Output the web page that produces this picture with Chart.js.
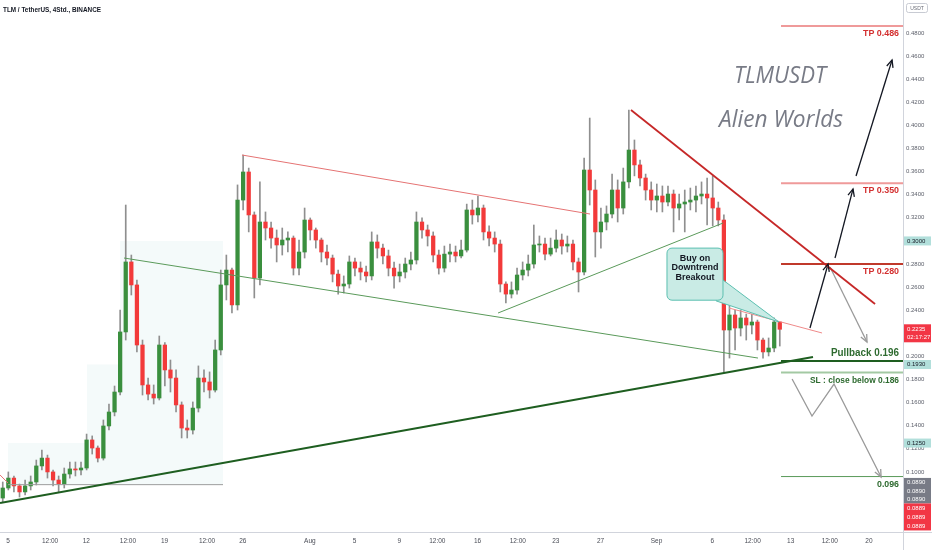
<!DOCTYPE html>
<html>
<head>
<meta charset="utf-8">
<script src="https://cdn.jsdelivr.net/npm/chart.js@4.4.0/dist/chart.umd.min.js"></script>
<style>
  html, body { margin: 0; padding: 0; background: #fff; }
  #wrap { width: 932px; height: 550px; }
</style>
</head>
<body>
<div id="wrap"><canvas id="chart"></canvas></div>
<script>
// TLM / USDT candles (12h buckets), x axis in "days" (July = 1..31, Aug = 32..62, Sep = 63..)
const firstOpen = 0.0774;
const closes = [
  0.0861, 0.0947, 0.0879, 0.0827, 0.0879, 0.0913, 0.1052, 0.1120, 0.1000, 0.0930,
  0.0895, 0.0982, 0.1026, 0.1017, 0.1034, 0.1277, 0.1207, 0.1120, 0.1398, 0.1519,
  0.1692, 0.2212, 0.2818, 0.2619, 0.2099, 0.1753, 0.1674, 0.1640, 0.2099, 0.1883,
  0.1813, 0.1580, 0.1380, 0.1363, 0.1553, 0.1813, 0.1779, 0.1709, 0.2056, 0.2619,
  0.2748, 0.2446, 0.3354, 0.3597, 0.3225, 0.2679, 0.3164, 0.3112, 0.3025, 0.2965,
  0.3008, 0.3025, 0.2765, 0.2904, 0.3181, 0.3095, 0.3008, 0.2904, 0.2852, 0.2713,
  0.2610, 0.2627, 0.2818, 0.2765, 0.2731, 0.2697, 0.2991, 0.2938, 0.2870, 0.2765,
  0.2697, 0.2731, 0.2800, 0.2835, 0.3164, 0.3095, 0.3043, 0.2878, 0.2765, 0.2886,
  0.2904, 0.2870, 0.2921, 0.3268, 0.3225, 0.3285, 0.3078, 0.3025, 0.2973, 0.2627,
  0.2540, 0.2575, 0.2705, 0.2748, 0.2800, 0.2965, 0.2973, 0.2886, 0.2938, 0.3008,
  0.2956, 0.2973, 0.2818, 0.2731, 0.3614, 0.3441, 0.3078, 0.3164, 0.3233, 0.3441,
  0.3285, 0.3511, 0.3787, 0.3658, 0.3545, 0.3441, 0.3354, 0.3389, 0.3337, 0.3406,
  0.3285, 0.3320, 0.3337, 0.3354, 0.3389, 0.3406, 0.3372, 0.3285, 0.3181, 0.2229,
  0.2359, 0.2246, 0.2333, 0.2272, 0.2298, 0.2142, 0.2039, 0.2073, 0.2298, 0.2235
];
const highs = [
  0.0913, 0.1000, 0.0965, 0.0895, 0.0930, 0.0965, 0.1103, 0.1190, 0.1146, 0.1017,
  0.0965, 0.1034, 0.1086, 0.1086, 0.1086, 0.1328, 0.1312, 0.1225, 0.1450, 0.1588,
  0.1744, 0.2402, 0.3311, 0.2878, 0.2662, 0.2142, 0.1813, 0.1753, 0.2177, 0.2120,
  0.1969, 0.1883, 0.1606, 0.1450, 0.1606, 0.1918, 0.1883, 0.1866, 0.2142, 0.2748,
  0.2878, 0.2765, 0.3485, 0.3744, 0.3631, 0.3251, 0.3511, 0.3251, 0.3164, 0.3095,
  0.3112, 0.3078, 0.3043, 0.3008, 0.3285, 0.3199, 0.3112, 0.3025, 0.2965, 0.2878,
  0.2748, 0.2697, 0.2870, 0.2852, 0.2818, 0.2783, 0.3078, 0.3052, 0.2973, 0.2921,
  0.2818, 0.2800, 0.2852, 0.2904, 0.3251, 0.3199, 0.3138, 0.3078, 0.2921, 0.2956,
  0.2973, 0.2956, 0.3008, 0.3319, 0.3354, 0.3389, 0.3311, 0.3130, 0.3078, 0.3008,
  0.2645, 0.2645, 0.2765, 0.2818, 0.2878, 0.3138, 0.3043, 0.3025, 0.3025, 0.3095,
  0.3060, 0.3043, 0.3008, 0.2852, 0.3718, 0.4064, 0.3528, 0.3285, 0.3303, 0.3579,
  0.3528, 0.3631, 0.4134, 0.3874, 0.3701, 0.3579, 0.3511, 0.3493, 0.3476, 0.3476,
  0.3441, 0.3406, 0.3441, 0.3458, 0.3476, 0.3511, 0.3545, 0.3563, 0.3337, 0.3225,
  0.2446, 0.2402, 0.2402, 0.2367, 0.2367, 0.2315, 0.2160, 0.2160, 0.2333, 0.2298
];
const lows = [
  0.0740, 0.0844, 0.0827, 0.0783, 0.0801, 0.0844, 0.0887, 0.1017, 0.0947, 0.0879,
  0.0827, 0.0861, 0.0947, 0.0965, 0.0974, 0.1017, 0.1155, 0.1086, 0.1103, 0.1363,
  0.1485, 0.1666, 0.2142, 0.2532, 0.2039, 0.1666, 0.1623, 0.1588, 0.1623, 0.1744,
  0.1692, 0.1519, 0.1294, 0.1294, 0.1328, 0.1519, 0.1692, 0.1640, 0.1692, 0.2013,
  0.2489, 0.2376, 0.2402, 0.3268, 0.3078, 0.2506, 0.2619, 0.3008, 0.2938, 0.2818,
  0.2878, 0.2904, 0.2705, 0.2705, 0.2852, 0.3008, 0.2938, 0.2818, 0.2792, 0.2645,
  0.2540, 0.2549, 0.2592, 0.2697, 0.2662, 0.2645, 0.2662, 0.2852, 0.2800, 0.2697,
  0.2592, 0.2645, 0.2679, 0.2748, 0.2800, 0.3025, 0.2956, 0.2818, 0.2713, 0.2731,
  0.2818, 0.2818, 0.2852, 0.2904, 0.3146, 0.3164, 0.3008, 0.2956, 0.2904, 0.2558,
  0.2463, 0.2506, 0.2540, 0.2662, 0.2697, 0.2765, 0.2904, 0.2835, 0.2870, 0.2904,
  0.2886, 0.2904, 0.2748, 0.2558, 0.2705, 0.3311, 0.2861, 0.2938, 0.3095, 0.3199,
  0.3164, 0.3233, 0.3458, 0.3563, 0.3476, 0.3354, 0.3268, 0.3251, 0.3251, 0.3303,
  0.3078, 0.3181, 0.3078, 0.3268, 0.3251, 0.3320, 0.3138, 0.3130, 0.3130, 0.1866,
  0.1986, 0.2056, 0.2177, 0.2142, 0.2194, 0.2056, 0.1986, 0.2004, 0.2040, 0.2090
];
const firstCandleDay = 4.53;
const candleStep = 0.5;

const timeTicks  = [5, 8.76, 12, 15.73, 19, 22.8, 26, 32, 36, 40, 43.4, 47, 50.6, 54, 58, 63, 68, 71.6, 75, 78.5, 82];
const timeLabels = ['5', '12:00', '12', '12:00', '19', '12:00', '26', 'Aug', '5', '9', '12:00', '16', '12:00', '23', '27', 'Sep', '6', '12:00', '13', '12:00', '20'];
const priceTicks = [0.48, 0.46, 0.44, 0.42, 0.40, 0.38, 0.36, 0.34, 0.32, 0.30, 0.28, 0.26, 0.24, 0.22, 0.20, 0.18, 0.16, 0.14, 0.12, 0.10];

// trade plan levels
const tpLevels = [0.486, 0.350, 0.280];
const pullbackLevel = 0.196;
const stopLevel = 0.186;
const targetLevel = 0.096;
const levelFrom = 74.14;
const levelTo = 85.05;

// right axis tags
const axisMarks = [0.3000, 0.1930, 0.1250];
const lastPrice = 0.2235;
const countdown = '02:17:27';
const stackGrey = ['0.0890', '0.0890', '0.0890'];
const stackRed = ['0.0889', '0.0889', '0.0889'];

// drawings (day, price)
const rangeSteps = [{x: 5, y: 0.125}, {x: 12.07, y: 0.193}, {x: 15.02, y: 0.300}, {x: 24.23, y: 0.300}];
const rangeBase = 0.089;
const supportLine   = [{x: 4.284, y: 0.0731}, {x: 77.0, y: 0.1995}];
const channelLow    = [{x: 15.376, y: 0.2852}, {x: 72.08, y: 0.1986}];
const channelTop    = [{x: 25.93, y: 0.3744}, {x: 57.06, y: 0.3233}];
const risingLine    = [{x: 48.83, y: 0.2376}, {x: 68.95, y: 0.3155}];
const downTrend     = [{x: 60.72, y: 0.4134}, {x: 82.55, y: 0.2454}];
const wedgeTop      = [{x: 69.49, y: 0.2419}, {x: 77.81, y: 0.2203}];
const leftStub      = [{x: 4.284, y: 0.0974}, {x: 5.0, y: 0.0904}];
const upArrow1      = [{x: 76.73, y: 0.2246}, {x: 78.35, y: 0.2800}];
const upArrow2      = [{x: 78.97, y: 0.2852}, {x: 80.58, y: 0.3450}];
const upArrow3      = [{x: 80.85, y: 0.3562}, {x: 84.07, y: 0.4567}];
const backArrow     = [{x: 78.52, y: 0.2774}, {x: 81.83, y: 0.2125}];
const dropArrow     = [{x: 75.13, y: 0.1805}, {x: 76.91, y: 0.1484}, {x: 78.88, y: 0.1761}, {x: 83.09, y: 0.0956}];
const callout = {x0: 63.94, x1: 68.95, top: 0.2938, bottom: 0.2487};
const calloutTip = [{x: 68.33, y: 0.2481}, {x: 73.96, y: 0.2298}, {x: 68.95, y: 0.2662}];
const calloutText = ['Buy on', 'Downtrend', 'Breakout'];

const GREEN = '#3a8f3e';
const RED = '#f23a3a';

const opens = closes.map((c, i) => i === 0 ? firstOpen : closes[i - 1]);
const candleDay = i => firstCandleDay + i * candleStep;

function lineSet(data, color, width, extra) {
    return Object.assign({
        type: 'line',
        data: data,
        borderColor: color,
        borderWidth: width,
        pointRadius: 0,
        fill: false,
        tension: 0,
        order: 1
    }, extra || {});
}

const overlay = {
    id: 'overlay',
    afterDatasetsDraw(chart) {
        const { ctx, chartArea: a, scales: { x, y } } = chart;
        const px = v => x.getPixelForValue(v);
        const py = v => y.getPixelForValue(v);
        ctx.save();

        // arrow heads
        chart.data.datasets.forEach((ds, i) => {
            if (!ds.arrow) return;
            const pts = chart.getDatasetMeta(i).data;
            const p1 = pts[pts.length - 2], p2 = pts[pts.length - 1];
            const ang = Math.atan2(p2.y - p1.y, p2.x - p1.x);
            ctx.strokeStyle = ds.borderColor;
            ctx.lineWidth = ds.borderWidth;
            ctx.beginPath();
            ctx.moveTo(p2.x - 8 * Math.cos(ang - 0.42), p2.y - 8 * Math.sin(ang - 0.42));
            ctx.lineTo(p2.x, p2.y);
            ctx.lineTo(p2.x - 8 * Math.cos(ang + 0.42), p2.y - 8 * Math.sin(ang + 0.42));
            ctx.stroke();
        });

        // callout
        ctx.fillStyle = '#c9ebe5';
        ctx.strokeStyle = '#5cbfb0';
        ctx.lineWidth = 1;
        ctx.beginPath();
        calloutTip.forEach((p, k) => k ? ctx.lineTo(px(p.x), py(p.y)) : ctx.moveTo(px(p.x), py(p.y)));
        ctx.closePath();
        ctx.fill();
        ctx.stroke();
        const bx = px(callout.x0), by = py(callout.top);
        const bw = px(callout.x1) - bx, bh = py(callout.bottom) - by;
        ctx.beginPath();
        ctx.roundRect(bx, by, bw, bh, 5);
        ctx.fill();
        ctx.stroke();
        ctx.fillStyle = '#131722';
        ctx.font = 'bold 9px "Liberation Sans"';
        ctx.textAlign = 'center';
        ctx.textBaseline = 'middle';
        calloutText.forEach((t, k) => ctx.fillText(t, bx + bw / 2, by + 10 + k * 9.5, bw - 4));

        // level labels
        const rx = a.right - 4;
        ctx.textAlign = 'right';
        ctx.fillStyle = '#d32f2f';
        ctx.font = 'bold 9px "Liberation Sans"';
        tpLevels.forEach(v => ctx.fillText('TP ' + v.toFixed(3), rx, py(v) + 7.5, 36));
        ctx.fillStyle = '#2e6b30';
        ctx.font = 'bold 11px "Liberation Sans"';
        ctx.fillText('Pullback ' + pullbackLevel.toFixed(3), rx, py(pullbackLevel) - 8, 68);
        ctx.font = 'bold 9px "Liberation Sans"';
        ctx.fillText('SL : close below ' + stopLevel.toFixed(3), rx, py(stopLevel) + 8, 89);
        ctx.fillText(targetLevel.toFixed(3), rx, py(targetLevel) + 8, 22);

        // big titles
        ctx.textAlign = 'center';
        ctx.fillStyle = '#787b86';
        ctx.font = 'italic 24px "Open Sans"';
        ctx.fillText('TLMUSDT', 780, 76, 92);
        ctx.fillText('Alien Worlds', 781, 120, 124);
        ctx.restore();
    },
    afterDraw(chart) {
        const { ctx, chartArea: a, scales: { y } } = chart;
        const py = v => y.getPixelForValue(v);
        const ax = a.right + 1, aw = chart.width - a.right - 2;
        ctx.save();

        // panel separators
        ctx.strokeStyle = '#d1d4dc';
        ctx.lineWidth = 1;
        ctx.beginPath();
        ctx.moveTo(a.right + 0.5, 0);
        ctx.lineTo(a.right + 0.5, chart.height);
        ctx.moveTo(0, a.bottom + 0.5);
        ctx.lineTo(chart.width, a.bottom + 0.5);
        ctx.stroke();

        ctx.font = '6px "Liberation Sans"';
        ctx.textAlign = 'left';
        ctx.textBaseline = 'middle';
        const tag = (yc, h, bg, fg, lines) => {
            ctx.fillStyle = bg;
            ctx.fillRect(ax, yc - h / 2, aw, h);
            ctx.fillStyle = fg;
            lines.forEach((t, k) => ctx.fillText(t, ax + 3, yc - (lines.length - 1) * 4 + k * 8));
        };
        axisMarks.forEach(v => tag(py(v), 9, '#b2dfdb', '#131722', [v.toFixed(4)]));
        const lp = py(lastPrice);
        tag(lp + 4, 18, '#f23645', '#ffffff', [lastPrice.toFixed(4), countdown]);
        let sy = py(0.10) + 6;
        ctx.fillStyle = '#787b86';
        ctx.fillRect(ax, sy, aw, stackGrey.length * 8.5);
        ctx.fillStyle = '#ffffff';
        stackGrey.forEach((t, k) => ctx.fillText(t, ax + 3, sy + 4.5 + k * 8.5));
        sy += stackGrey.length * 8.5;
        ctx.fillStyle = '#f23645';
        ctx.fillRect(ax, sy, aw, stackRed.length * 9);
        ctx.fillStyle = '#ffffff';
        stackRed.forEach((t, k) => ctx.fillText(t, ax + 3, sy + 4.5 + k * 9));

        // currency tag
        ctx.strokeStyle = '#c8cbd3';
        ctx.beginPath();
        ctx.roundRect(a.right + 3.5, 3.5, 21, 9, 2);
        ctx.stroke();
        ctx.fillStyle = '#6a6d78';
        ctx.font = '5px "Liberation Sans"';
        ctx.textAlign = 'center';
        ctx.fillText('USDT', a.right + 14, 8.2);

        // symbol title
        ctx.textAlign = 'left';
        ctx.fillStyle = '#131722';
        ctx.font = 'bold 7.5px "Liberation Sans"';
        ctx.fillText('TLM / TetherUS, 4Std., BINANCE', 3, 10, 98);
        ctx.restore();
    }
};

const ctx = document.getElementById('chart').getContext('2d');
new Chart(ctx, {
    type: 'bar',
    data: {
        datasets: [
            lineSet(supportLine, '#1e5e20', 2.2),
            lineSet(channelLow, '#5a9a5a', 1),
            lineSet(channelTop, '#e57373', 1),
            lineSet(risingLine, '#5a9a5a', 1),
            lineSet(downTrend, '#c62828', 1.8),
            lineSet(wedgeTop, '#ef8a8a', 1),
            lineSet(leftStub, '#e57373', 1),
            lineSet([{x: levelFrom, y: tpLevels[0]}, {x: levelTo, y: tpLevels[0]}], '#ef9a9a', 2),
            lineSet([{x: levelFrom, y: tpLevels[1]}, {x: levelTo, y: tpLevels[1]}], '#ef9a9a', 2),
            lineSet([{x: levelFrom, y: tpLevels[2]}, {x: levelTo, y: tpLevels[2]}], '#c0392b', 2),
            lineSet([{x: levelFrom, y: pullbackLevel}, {x: levelTo, y: pullbackLevel}], '#1e5e20', 2),
            lineSet([{x: levelFrom, y: stopLevel}, {x: levelTo, y: stopLevel}], '#a3c9a3', 2),
            lineSet([{x: levelFrom, y: targetLevel}, {x: levelTo, y: targetLevel}], '#5a9a5a', 1),
            lineSet(upArrow1, '#131722', 1.3, {arrow: true}),
            lineSet(upArrow2, '#131722', 1.3, {arrow: true}),
            lineSet(upArrow3, '#131722', 1.3, {arrow: true}),
            lineSet(backArrow, '#9a9a9a', 1.3, {arrow: true}),
            lineSet(dropArrow, '#9a9a9a', 1.3, {arrow: true}),
            lineSet([{x: rangeSteps[0].x, y: rangeBase}, {x: rangeSteps[rangeSteps.length - 1].x, y: rangeBase}], '#9e9e9e', 1),
            {
                label: 'bodies',
                data: closes.map((c, i) => ({x: candleDay(i), y: [opens[i], c]})),
                backgroundColor: closes.map((c, i) => c >= opens[i] ? GREEN : RED),
                barThickness: 3.6,
                minBarLength: 1,
                grouped: false,
                order: 2
            },
            {
                label: 'wicks',
                data: closes.map((c, i) => ({x: candleDay(i), y: [lows[i], highs[i]]})),
                backgroundColor: '#8f8f8f',
                barThickness: 1,
                grouped: false,
                order: 3
            },
            lineSet(rangeSteps, 'rgba(0,0,0,0)', 0, {
                stepped: 'before',
                fill: {value: rangeBase},
                backgroundColor: 'rgba(178,223,219,0.15)',
                order: 5
            })
        ]
    },
    options: {
        responsive: true,
        maintainAspectRatio: false,
        animation: false,
        events: [],
        layout: { padding: 0 },
        plugins: {
            legend: { display: false },
            tooltip: { enabled: false }
        },
        scales: {
            x: {
                type: 'linear',
                min: 4.284,
                max: 85.05,
                offset: false,
                grid: { display: false, drawTicks: false },
                border: { display: false },
                afterBuildTicks: s => { s.ticks = timeTicks.map(v => ({value: v})); },
                afterFit: s => { s.height = 18; s.paddingLeft = 0; s.paddingRight = 0; },
                ticks: {
                    autoSkip: false,
                    maxRotation: 0,
                    padding: 5,
                    color: '#4a4d57',
                    font: { size: 6.5, family: 'Liberation Sans' },
                    callback: (v, i) => timeLabels[i]
                }
            },
            y: {
                type: 'linear',
                position: 'right',
                min: 0.048,
                max: 0.5086,
                grid: { display: false, drawTicks: false },
                border: { display: false },
                afterBuildTicks: s => { s.ticks = priceTicks.map(v => ({value: v})); },
                afterFit: s => { s.width = 29; s.paddingTop = 0; s.paddingBottom = 0; },
                ticks: {
                    padding: 3,
                    color: '#5d606b',
                    font: { size: 6, family: 'Liberation Sans' },
                    callback: v => v.toFixed(4)
                }
            }
        }
    },
    plugins: [overlay]
});
</script>
</body>
</html>
